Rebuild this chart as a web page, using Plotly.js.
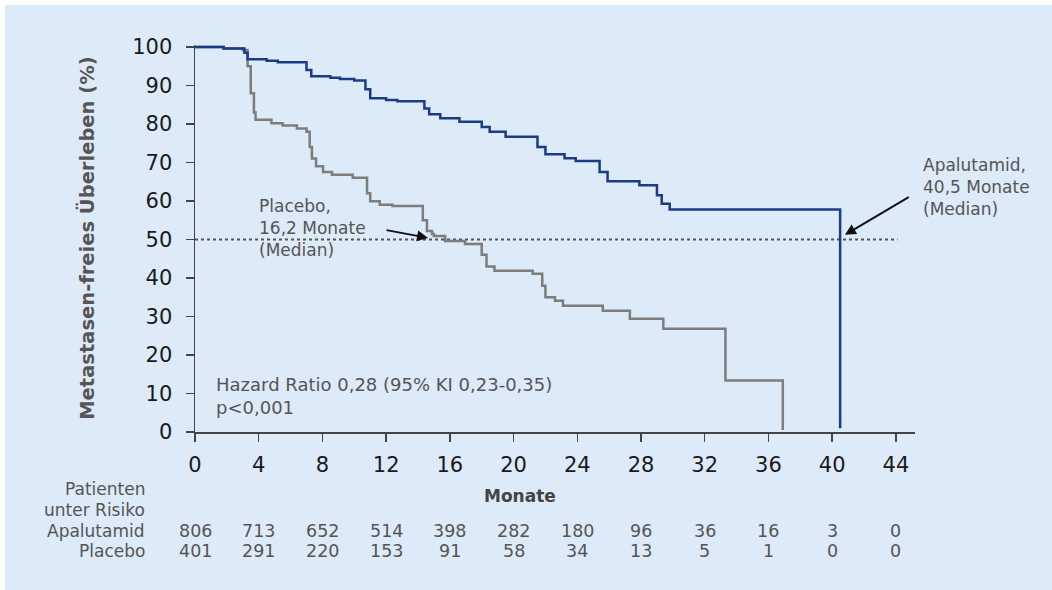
<!DOCTYPE html>
<html>
<head>
<meta charset="utf-8">
<script src="https://cdn.plot.ly/plotly-3.0.1.min.js"></script>
<style>
html,body{margin:0;padding:0;background:#ffffff;}
#chart{position:absolute;left:5px;top:5px;width:1047px;height:585px;}
</style>
</head>
<body>
<div id="chart"></div>
<script>
// Kaplan-Meier step data (months, % metastasis-free survival)
var apaTime = [0, 1.8, 3.1, 3.3, 4.5, 5.2, 7.0, 7.3, 8.5, 9.1, 10.0, 10.7, 11.0, 12.0, 12.7, 14.4, 14.7, 15.4, 16.6, 18.0, 18.5, 19.5, 21.5, 22.0, 23.2, 23.9, 25.4, 25.9, 27.9, 29.0, 29.3, 29.8, 40.5];
var apaSurv = [100, 99.6, 98.5, 96.8, 96.4, 96.0, 94.0, 92.4, 92.0, 91.7, 91.3, 89.0, 86.7, 86.2, 85.9, 84.0, 82.5, 81.5, 80.6, 79.2, 78.0, 76.7, 74.0, 72.1, 71.1, 70.4, 67.5, 65.1, 64.1, 61.5, 59.3, 57.8, 1];

var plaTime = [0, 1.8, 3.0, 3.3, 3.5, 3.7, 3.8, 4.8, 5.5, 6.4, 7.0, 7.2, 7.34, 7.6, 8.04, 8.6, 9.9, 10.8, 11.0, 11.6, 12.4, 14.3, 14.56, 14.88, 15.0, 15.7, 16.95, 18.0, 18.3, 18.8, 21.2, 21.8, 22.0, 22.6, 23.1, 25.6, 27.3, 29.4, 33.3, 36.9];
var plaSurv = [100, 99.6, 99.2, 95, 88, 83, 81.1, 80.2, 79.6, 78.8, 78.0, 74, 71, 69, 67.5, 66.8, 66.0, 62, 59.9, 59.0, 58.7, 55, 52.2, 51.4, 50.9, 49.6, 48.8, 46, 43, 41.9, 41.1, 38, 35, 34.1, 32.8, 31.5, 29.4, 26.8, 13.4, 0.5];

// Axis ticks
var xTicks = [0, 4, 8, 12, 16, 20, 24, 28, 32, 36, 40, 44];
var yTicks = [0, 10, 20, 30, 40, 50, 60, 70, 80, 90, 100];

// Patients at risk
var riskTimes = [0, 4, 8, 12, 16, 20, 24, 28, 32, 36, 40, 44];
var riskApa = [806, 713, 652, 514, 398, 282, 180, 96, 36, 16, 3, 0];
var riskPla = [401, 291, 220, 153, 91, 58, 34, 13, 5, 1, 0, 0];

var medianLevel = 50;
var txtColor = '#555555';
var fam = 'DejaVu Sans, Verdana, sans-serif';

var traces = [
  {x: plaTime, y: plaSurv, type: 'scatter', mode: 'lines', line: {shape: 'hv', color: '#7d7d7d', width: 2.5}, name: 'Placebo', hoverinfo: 'skip'},
  {x: apaTime, y: apaSurv, type: 'scatter', mode: 'lines', line: {shape: 'hv', color: '#1b3c84', width: 2.5}, name: 'Apalutamid', hoverinfo: 'skip'}
];

var ann = [];
// Risk table
var lblX = -0.067;
ann.push({xref: 'paper', yref: 'paper', x: lblX, y: -0.147, xanchor: 'right', yanchor: 'middle', text: 'Patienten', showarrow: false, font: {family: fam, size: 17, color: txtColor}});
ann.push({xref: 'paper', yref: 'paper', x: lblX, y: -0.2016, xanchor: 'right', yanchor: 'middle', text: 'unter Risiko', showarrow: false, font: {family: fam, size: 17, color: txtColor}});
ann.push({xref: 'paper', yref: 'paper', x: lblX, y: -0.256, xanchor: 'right', yanchor: 'middle', text: 'Apalutamid', showarrow: false, font: {family: fam, size: 17, color: txtColor}});
ann.push({xref: 'paper', yref: 'paper', x: lblX, y: -0.3075, xanchor: 'right', yanchor: 'middle', text: 'Placebo', showarrow: false, font: {family: fam, size: 17, color: txtColor}});
for (var i = 0; i < riskTimes.length; i++) {
  ann.push({xref: 'x', yref: 'paper', x: riskTimes[i], y: -0.256, xanchor: 'center', yanchor: 'middle', text: String(riskApa[i]), showarrow: false, font: {family: fam, size: 17.5, color: txtColor}});
  ann.push({xref: 'x', yref: 'paper', x: riskTimes[i], y: -0.3075, xanchor: 'center', yanchor: 'middle', text: String(riskPla[i]), showarrow: false, font: {family: fam, size: 17.5, color: txtColor}});
}
// Axis titles
ann.push({xref: 'paper', yref: 'paper', x: 0.451, y: -0.165, xanchor: 'center', yanchor: 'middle', text: '<b>Monate</b>', showarrow: false, font: {family: fam, size: 17, color: '#444444'}});
ann.push({xref: 'paper', yref: 'paper', x: -0.151, y: 0.5, xanchor: 'center', yanchor: 'middle', textangle: -90, text: '<b>Metastasen-freies Überleben (%)</b>', showarrow: false, font: {family: fam, size: 19.5, color: txtColor}});
// Median labels
ann.push({xref: 'x', yref: 'y', x: 3.9, y: 53, xanchor: 'left', yanchor: 'middle', align: 'left', text: 'Placebo,<br>16,2 Monate<br>(Median)', showarrow: false, font: {family: fam, size: 17, color: txtColor}});
ann.push({xref: 'x', yref: 'y', x: 14.63, y: 50.4, axref: 'x', ayref: 'y', ax: 11.93, ay: 52.5, text: '', showarrow: true, arrowhead: 2, arrowsize: 1.1, arrowwidth: 2, arrowcolor: '#111111'});
ann.push({xref: 'paper', yref: 'paper', x: 1.0083, y: 0.633, xanchor: 'left', yanchor: 'middle', align: 'left', text: 'Apalutamid,<br>40,5 Monate<br>(Median)', showarrow: false, font: {family: fam, size: 17, color: txtColor}});
ann.push({xref: 'x', yref: 'y', x: 40.8, y: 51.2, axref: 'x', ayref: 'y', ax: 44.9, ay: 61.2, text: '', showarrow: true, arrowhead: 2, arrowsize: 1.1, arrowwidth: 2, arrowcolor: '#111111'});
// Hazard ratio
ann.push({xref: 'x', yref: 'y', x: 1.2, y: 9.3, xanchor: 'left', yanchor: 'middle', align: 'left', text: 'Hazard Ratio 0,28 (95% KI 0,23-0,35)<br>p<0,001', showarrow: false, font: {family: fam, size: 18, color: txtColor}});

var layout = {
  width: 1047, height: 585,
  paper_bgcolor: '#ddeaf8', plot_bgcolor: 'rgba(0,0,0,0)',
  margin: {l: 190, r: 137, t: 40, b: 158},
  showlegend: false,
  font: {family: fam, color: '#222222'},
  xaxis: {
    range: [0, 45.2], tickvals: xTicks, ticktext: xTicks.map(String),
    ticks: 'outside', ticklen: 8, tickwidth: 1.5, tickcolor: '#444444',
    showline: true, linecolor: '#444444', linewidth: 1.5,
    showgrid: false, zeroline: false, fixedrange: true,
    ticklabelstandoff: 5,
    tickfont: {family: fam, size: 21, color: '#1a1a1a'}
  },
  yaxis: {
    range: [0, 100.5], tickvals: yTicks, ticktext: yTicks.map(String),
    ticks: 'outside', ticklen: 8, tickwidth: 1.5, tickcolor: '#444444',
    showline: true, linecolor: '#444444', linewidth: 1.5,
    showgrid: false, zeroline: false, fixedrange: true,
    ticklabelstandoff: 9,
    tickfont: {family: fam, size: 21, color: '#1a1a1a'}
  },
  shapes: [
    {type: 'line', xref: 'x', yref: 'y', x0: 0, x1: 44.1, y0: medianLevel, y1: medianLevel, line: {color: '#555555', width: 2, dash: 'dot'}, layer: 'below'}
  ],
  annotations: ann
};

Plotly.newPlot('chart', traces, layout, {displayModeBar: false, staticPlot: true});
</script>
</body>
</html>
